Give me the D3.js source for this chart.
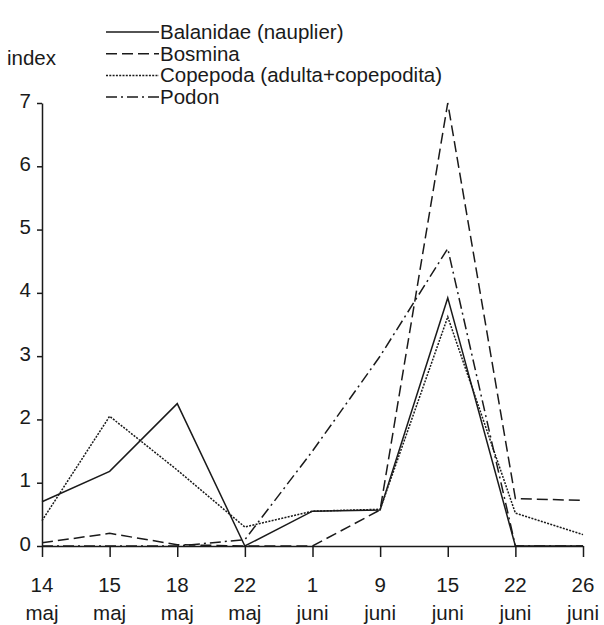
<!DOCTYPE html>
<html>
<head>
<meta charset="utf-8">
<script src="https://cdn.jsdelivr.net/npm/d3@7"></script>
<style>
  body { margin: 0; background: #fff; }
  text { font-family: "Liberation Sans", Arial, sans-serif; fill: #1a1a1a; }
</style>
</head>
<body>
<svg id="chart"></svg>
<script>
// Dates along the x axis
const days = ["14", "15", "18", "22", "1", "9", "15", "22", "26"];
const months = ["maj", "maj", "maj", "maj", "juni", "juni", "juni", "juni", "juni"];
const yTicks = [0, 1, 2, 3, 4, 5, 6, 7];

// Series values (index)
const balanidae = [0.7, 1.18, 2.25, 0, 0.55, 0.57, 3.92, 0, 0];
const bosmina   = [0.05, 0.2, 0.02, 0, 0, 0.57, 7.0, 0.75, 0.72];
const copepoda  = [0.4, 2.05, 1.2, 0.3, 0.55, 0.58, 3.62, 0.52, 0.18];
const podon     = [0, 0, 0, 0.1, 1.5, 3.0, 4.7, 0, 0];

const seriesNames = ["Balanidae (nauplier)", "Bosmina", "Copepoda (adulta+copepodita)", "Podon"];
const seriesData = [balanidae, bosmina, copepoda, podon];
const dashes = [null, "11,5", "2,1.3", "11,4,2,4"];

const width = 604, height = 625;
const fs = 20.5;
const svg = d3.select("#chart").attr("width", width).attr("height", height);
const ink = "#1a1a1a";

const idx = d3.range(days.length);
const x = d3.scalePoint().domain(idx).range([42, 583]);
const y = d3.scaleLinear().domain([0, 7]).range([546, 103]);

// Lines
const line = d3.line().x((d, i) => x(i)).y(d => y(d));
seriesData.forEach((vals, s) => {
  svg.append("path")
    .datum(vals)
    .attr("d", line)
    .attr("fill", "none")
    .attr("stroke", ink)
    .attr("stroke-width", 1.5)
    .attr("stroke-dasharray", dashes[s]);
});

// Y axis
const yAxis = svg.append("g")
  .attr("transform", "translate(42,0)")
  .call(d3.axisLeft(y).tickValues(yTicks).tickFormat(d3.format("d"))
    .tickSize(5).tickPadding(6).tickSizeOuter(0));
yAxis.select(".domain").attr("stroke", ink).attr("stroke-width", 1.5);
yAxis.selectAll(".tick line").attr("stroke", ink).attr("stroke-width", 1.5);
yAxis.selectAll(".tick text")
  .attr("font-size", fs)
  .attr("dy", "0.2em")
  .attr("font-family", "Liberation Sans, Arial, sans-serif");

// X axis
const xAxis = svg.append("g")
  .attr("transform", "translate(0,546)")
  .call(d3.axisBottom(x).tickSize(11).tickSizeOuter(0).tickFormat(() => ""));
xAxis.select(".domain").attr("stroke", ink).attr("stroke-width", 1.5);
xAxis.selectAll(".tick line").attr("stroke", ink).attr("stroke-width", 1.5);

svg.append("g").selectAll("text")
  .data(idx)
  .join("text")
  .attr("x", d => x(d))
  .attr("y", 592)
  .attr("text-anchor", "middle")
  .attr("font-size", fs)
  .text(d => days[d]);

svg.append("g").selectAll("text")
  .data(idx)
  .join("text")
  .attr("x", d => x(d))
  .attr("y", 620)
  .attr("text-anchor", "middle")
  .attr("font-size", fs)
  .text(d => months[d]);

// Axis title
svg.append("text")
  .attr("x", 7)
  .attr("y", 65)
  .attr("font-size", fs)
  .text("index");

// Legend
const legend = svg.append("g");
seriesNames.forEach((name, s) => {
  const ly = 32 + s * 21.7;
  legend.append("line")
    .attr("x1", 106).attr("x2", 159)
    .attr("y1", ly).attr("y2", ly)
    .attr("stroke", ink)
    .attr("stroke-width", 1.5)
    .attr("stroke-dasharray", dashes[s]);
  legend.append("text")
    .attr("x", 160)
    .attr("y", ly + 7)
    .attr("font-size", fs)
    .text(name);
});
</script>
</body>
</html>
